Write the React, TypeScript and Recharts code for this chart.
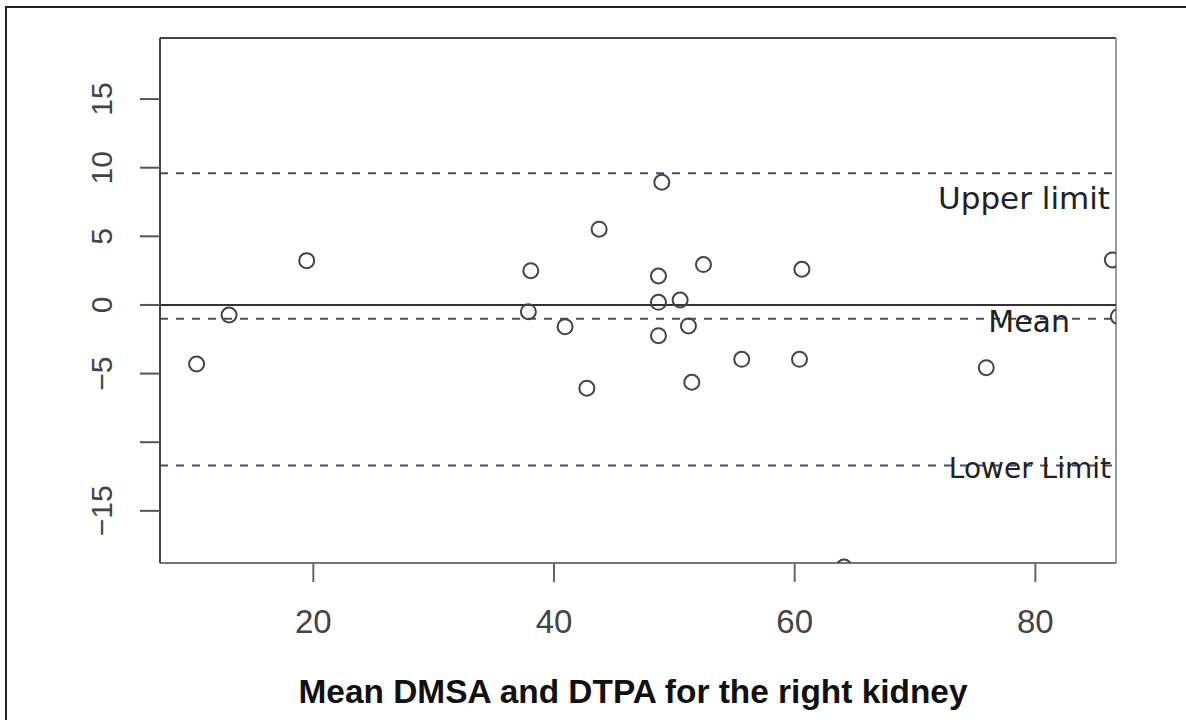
import { ScatterChart, Scatter, XAxis, YAxis, ReferenceLine } from 'recharts';

// mean of DMSA and DTPA (x) against their difference (y), one entry per kidney
const meanValues = [10.3, 13.0, 19.45, 37.87, 38.07, 40.92, 42.73, 43.75, 48.68, 48.68, 48.68, 48.96, 50.48, 51.17, 51.45, 52.42, 55.6, 60.4, 60.6, 64.1, 75.92, 86.4, 86.9];
const diffValues = [-4.3, -0.73, 3.23, -0.49, 2.5, -1.58, -6.07, 5.52, 2.11, 0.19, -2.24, 8.94, 0.36, -1.53, -5.63, 2.94, -3.96, -3.96, 2.6, -19.1, -4.57, 3.28, -0.85];

const upperLimit = 9.6;
const meanDiff = -1.0;
const lowerLimit = -11.7;

const xTicks = [20, 40, 60, 80];
const yTicks = [-15, -10, -5, 0, 5, 10, 15];
const yTickLabels = ['\u221215', '', '\u22125', '0', '5', '10', '15'];

const xDomain = [7.26, 86.7];
const yDomain = [-18.8, 19.45];

const points = meanValues.map((m, i) => ({ mean: m, diff: diffValues[i] }));

const YTick = (props: any) => {
  const { x, y, payload } = props;
  const label = yTickLabels[yTicks.indexOf(payload.value)];
  if (!label) return <g />;
  return (
    <text x={x} y={y} transform={`rotate(-90 ${x} ${y})`} textAnchor="middle"
      fontSize={30} fill="#444" fontFamily="'Liberation Sans', Arial, sans-serif">
      {label}
    </text>
  );
};

const XTick = (props: any) => {
  const { x, y, payload } = props;
  return (
    <text x={x} y={y + 51} textAnchor="middle" fontSize={33} fill="#444"
      fontFamily="'Liberation Sans', Arial, sans-serif">
      {payload.value}
    </text>
  );
};

const LimitLabel = (props: any) => {
  const { viewBox, text, right, dy, size } = props;
  return (
    <text x={viewBox.x + viewBox.width - right} y={viewBox.y + dy} textAnchor="end"
      fontSize={size} fill="#222" fontFamily="'DejaVu Sans', sans-serif">
      {text}
    </text>
  );
};

const TitleLabel = (props: any) => {
  const { viewBox } = props;
  return (
    <text x={viewBox.x + viewBox.width / 2 - 5} y={703} textAnchor="middle" fontSize={34}
      fontWeight="bold" fill="#111" textLength={669} lengthAdjust="spacingAndGlyphs"
      fontFamily="'Liberation Sans', Arial, sans-serif">
      Mean DMSA and DTPA for the right kidney
    </text>
  );
};

const OpenCircle = (props: any) => (
  <circle cx={props.cx} cy={props.cy} r={7.5} fill="none" stroke="#444" strokeWidth={2} />
);

export default function App() {
  return (
    <div style={{ position: 'absolute', left: 0, top: 0, width: 1186, height: 720, background: '#fff' }}>
      <div style={{ position: 'absolute', left: 5, top: 6, width: 1181, height: 714, borderLeft: '2px solid #222', borderTop: '2px solid #222' }} />
      <div style={{ position: 'absolute', left: 0, top: 0 }}>
        <ScatterChart width={1186} height={720} margin={{ top: 38, right: 70, bottom: 0, left: 0 }}>
          <XAxis type="number" dataKey="mean" domain={xDomain} allowDataOverflow ticks={xTicks}
            height={157} tickSize={19} tickMargin={0} tick={<XTick />}
            axisLine={{ stroke: '#777', strokeWidth: 2 }} tickLine={{ stroke: '#666', strokeWidth: 2 }}
            label={<TitleLabel />} />
          <YAxis type="number" dataKey="diff" domain={yDomain} allowDataOverflow ticks={yTicks}
            width={160} tickSize={20} tickMargin={28} tick={<YTick />} interval={0}
            axisLine={{ stroke: '#444', strokeWidth: 2 }} tickLine={{ stroke: '#555', strokeWidth: 2 }} />
          <ReferenceLine y={yDomain[1]} stroke="#444" strokeWidth={2} />
          <ReferenceLine x={xDomain[1]} stroke="#999" strokeWidth={2} />
          <ReferenceLine y={0} stroke="#333" strokeWidth={2} />
          <ReferenceLine y={upperLimit} stroke="#4a4a78" strokeWidth={2} strokeDasharray="8 8"
            label={<LimitLabel text="Upper limit" right={6} dy={36} size={31} />} />
          <ReferenceLine y={meanDiff} stroke="#4a4a78" strokeWidth={2} strokeDasharray="8 8"
            label={<LimitLabel text="Mean" right={46} dy={13} size={30} />} />
          <ReferenceLine y={lowerLimit} stroke="#4a4a78" strokeWidth={2} strokeDasharray="8 8"
            label={<LimitLabel text="Lower Limit" right={5} dy={12} size={28} />} />
          <Scatter data={points} shape={<OpenCircle />} isAnimationActive={false} />
        </ScatterChart>
      </div>
    </div>
  );
}
